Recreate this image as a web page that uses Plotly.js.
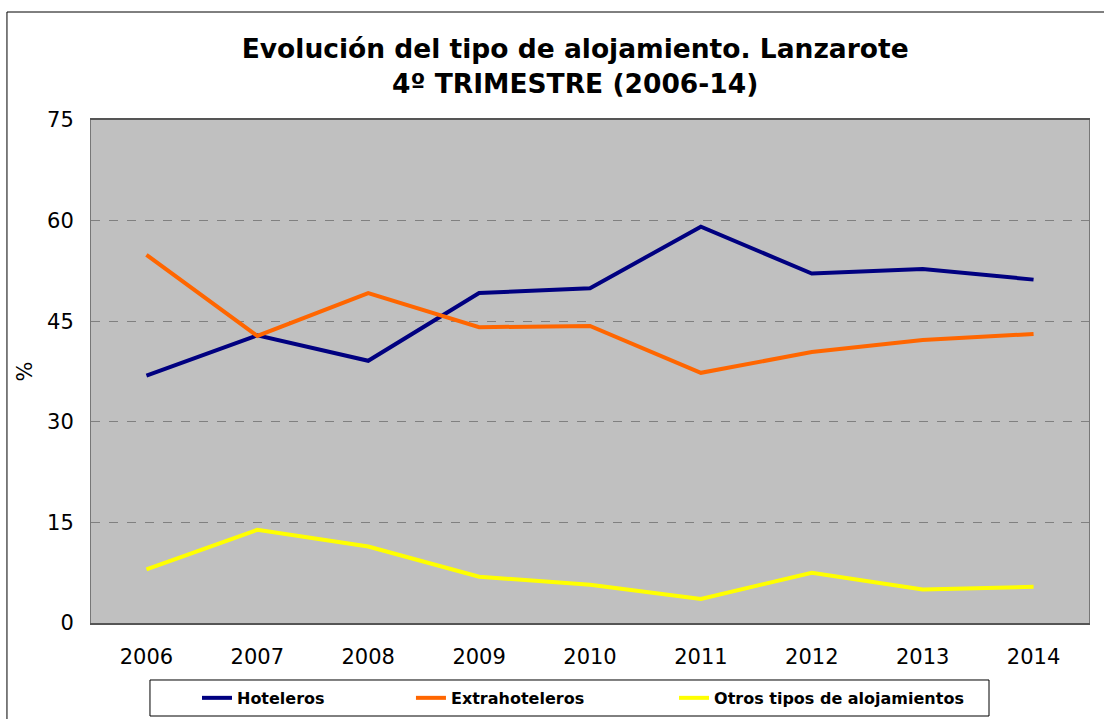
<!DOCTYPE html>
<html><head><meta charset="utf-8">
<script src="https://cdn.plot.ly/plotly-3.0.1.min.js"></script>
<style>html,body{margin:0;padding:0;background:#fff;}#chart{width:1104px;height:719px;}</style>
</head><body><div id="chart"></div>
<script>
const years = ['2006','2007','2008','2009','2010','2011','2012','2013','2014'];
const hoteleros = [36.9, 42.9, 39.1, 49.2, 49.9, 59.1, 52.1, 52.8, 51.2];
const extrahoteleros = [54.9, 42.8, 49.2, 44.1, 44.3, 37.3, 40.4, 42.2, 43.1];
const otros = [8.0, 13.9, 11.4, 6.9, 5.7, 3.6, 7.5, 5.0, 5.4];
const names = ['Hoteleros', 'Extrahoteleros', 'Otros tipos de alojamientos'];
const colors = ['#000080', '#FF6600', '#FFFF00'];
const yTicks = [0, 15, 30, 45, 60, 75];

const font = 'Verdana, "DejaVu Sans", sans-serif';
const series = [hoteleros, extrahoteleros, otros];
const legendIds = ['legend', 'legend2', 'legend3'];
const legendX = [0.1062, 0.3206, 0.5842];
const traces = series.map((s, i) => ({
  x: years, y: s, name: names[i], type: 'scatter', mode: 'lines',
  line: {color: colors[i], width: 4}, legend: legendIds[i]
}));

const layout = {
  width: 1104, height: 719,
  margin: {l: 91, r: 15, t: 120, b: 96, autoexpand: false},
  paper_bgcolor: '#ffffff', plot_bgcolor: '#c0c0c0',
  font: {family: font, color: '#000'},
  title: {text: '<b>Evolución del tipo de alojamiento. Lanzarote<br>4º TRIMESTRE (2006-14)</b>',
    x: 0.521, xanchor: 'center', y: 0.919, yanchor: 'middle', font: {size: 26.5, family: font}},
  xaxis: {type: 'category', range: [-0.5, 8.5], showgrid: false, zeroline: false,
    showline: true, linecolor: '#555', linewidth: 2, mirror: true,
    ticks: '', tickfont: {size: 21}, ticklabelstandoff: 14, fixedrange: true},
  yaxis: {range: [0, 75], tickvals: yTicks, ticktext: yTicks.map(String),
    showgrid: true, gridcolor: '#808080', griddash: 'dash', gridwidth: 1,
    zeroline: false, showline: true, linecolor: '#777', linewidth: 1, mirror: true,
    ticks: '', tickfont: {size: 21}, ticklen: 0, ticklabelstandoff: 12,
    title: {text: '%', font: {size: 21}, standoff: 8}},
  showlegend: true,
  shapes: [
    {type: 'rect', xref: 'paper', yref: 'paper', x0: -0.0842, x1: 1.05, y0: -0.3, y1: 1.2147,
      line: {color: '#000', width: 1}, fillcolor: 'rgba(0,0,0,0)', layer: 'below'},
    {type: 'rect', xref: 'paper', yref: 'paper', x0: 0.0591, x1: 0.8998, y0: -0.1849, y1: -0.1133,
      line: {color: '#000', width: 1}, fillcolor: '#fff', layer: 'below'}
  ]
};
legendIds.forEach((id, i) => {
  layout[id] = {orientation: 'h', x: legendX[i], xanchor: 'left', y: -0.149, yanchor: 'middle',
    bgcolor: 'rgba(0,0,0,0)', borderwidth: 0,
    font: {size: 16, family: font, weight: 'bold'}};
});
Plotly.newPlot('chart', traces, layout, {displayModeBar: false, staticPlot: true});
</script></body></html>
